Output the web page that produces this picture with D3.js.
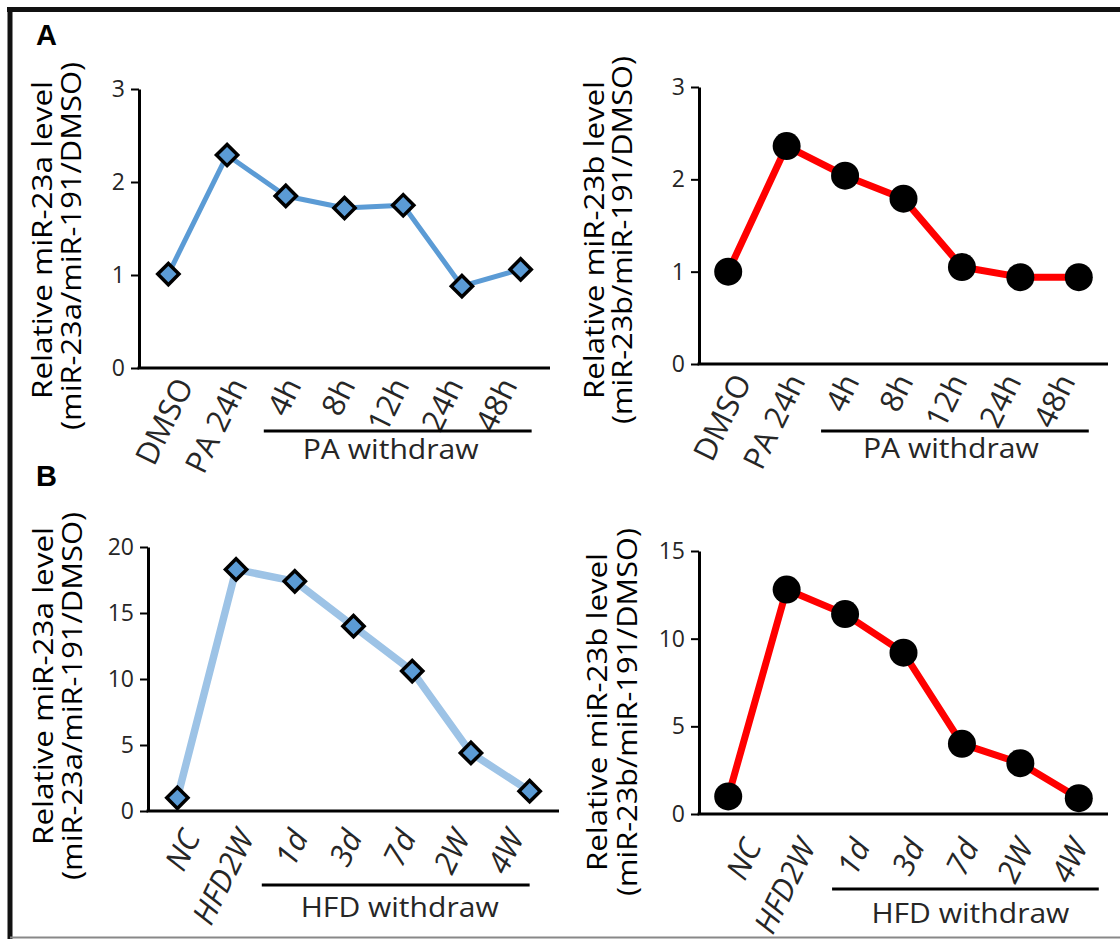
<!DOCTYPE html>
<html>
<head>
<meta charset="utf-8">
<script src="https://cdn.jsdelivr.net/npm/d3@7"></script>
<style>
  body { margin: 0; background: #fff; }
  text { font-family: "Open Sans", "DejaVu Sans", sans-serif; fill: #262626; }
</style>
</head>
<body>
<div id="chart"></div>
<script>
//// data
var catsPA = ["DMSO", "PA 24h", "4h", "8h", "12h", "24h", "48h"];
var mir23aPA = [1.01, 2.29, 1.85, 1.72, 1.75, 0.88, 1.06];
var mir23bPA = [1.00, 2.36, 2.04, 1.79, 1.05, 0.94, 0.94];

var catsHFD = ["NC", "HFD2W", "1d", "3d", "7d", "2W", "4W"];
var mir23aHFD = [1.0, 18.3, 17.4, 14.0, 10.6, 4.4, 1.5];
var mir23bHFD = [1.0, 12.8, 11.4, 9.2, 4.0, 2.9, 0.9];

var ticksPA = [0, 1, 2, 3];
var ticksHFDa = [0, 5, 10, 15, 20];
var ticksHFDb = [0, 5, 10, 15];

var titleA = ["Relative  miR-23a level", "(miR-23a/miR-191/DMSO)"];
var titleB = ["Relative  miR-23b level", "(miR-23b/miR-191/DMSO)"];

var W = 1120, H = 939;

var svg = d3.select("#chart")
  .append("svg")
    .attr("width", W)
    .attr("height", H);

// frame
svg.append("line").attr("x1", 7).attr("x2", W).attr("y1", 9.5).attr("y2", 9.5)
  .attr("stroke", "#111").attr("stroke-width", 5);
svg.append("line").attr("x1", 10).attr("x2", 10).attr("y1", 7).attr("y2", H)
  .attr("stroke", "#111").attr("stroke-width", 5);
svg.append("line").attr("x1", 10).attr("x2", W).attr("y1", 937.5).attr("y2", 937.5)
  .attr("stroke", "#888").attr("stroke-width", 2);

svg.append("text").attr("x", 36).attr("y", 45)
  .style("font-family", "Liberation Sans, Arial, sans-serif")
  .style("font-weight", "bold").style("font-size", "29px").style("fill", "#000")
  .text("A");
svg.append("text").attr("x", 36).attr("y", 486)
  .style("font-family", "Liberation Sans, Arial, sans-serif")
  .style("font-weight", "bold").style("font-size", "29px").style("fill", "#000")
  .text("B");

function panel(o) {
  var g = svg.append("g");

  var x = d3.scalePoint()
    .domain(o.cats)
    .range([o.x0, o.x1])
    .padding(0.5);

  // the category labels sit on a slightly tighter spacing than the points
  var xl = d3.scalePoint()
    .domain(o.cats)
    .range([o.x0 + o.lab[0], o.x1 - o.lab[1]])
    .padding(0.5);

  var y = d3.scaleLinear()
    .domain([0, o.ymax])
    .range([o.y0, o.y1]);

  // y axis
  var ya = g.append("g")
    .attr("transform", "translate(" + o.x0 + ",0)")
    .call(d3.axisLeft(y)
      .tickValues(o.ticks)
      .tickFormat(d3.format("d"))
      .tickSize(8).tickSizeOuter(0).tickPadding(6));
  ya.select(".domain").attr("stroke", "#000").attr("stroke-width", 3);
  ya.selectAll(".tick line").attr("stroke", "#000").attr("stroke-width", 2);
  ya.selectAll(".tick text")
    .style("font-family", "Open Sans, sans-serif")
    .style("font-size", "23px").style("fill", "#262626");

  // x axis (no ticks)
  g.append("line")
    .attr("x1", o.x0 - 1.5).attr("x2", o.x1)
    .attr("y1", o.y0).attr("y2", o.y0)
    .attr("stroke", "#000").attr("stroke-width", 3);

  // rotated category labels
  g.selectAll(".cat")
    .data(o.cats)
    .enter().append("text")
      .attr("class", "cat")
      .attr("text-anchor", "end")
      .attr("transform", function(d) {
        return "translate(" + xl(d) + "," + (o.y0 + o.ldy) + ") rotate(-64)";
      })
      .style("font-size", "31px")
      .style("font-style", o.italic ? "italic" : "normal")
      .text(function(d) { return d; });

  // group bracket
  var bx0 = x(o.cats[2]) - o.br[0], bx1 = x(o.cats[6]) + o.br[1];
  g.append("line")
    .attr("x1", bx0).attr("x2", bx1)
    .attr("y1", o.y0 + o.bdy).attr("y2", o.y0 + o.bdy)
    .attr("stroke", "#000").attr("stroke-width", 3);
  g.append("text")
    .attr("x", (bx0 + bx1) / 2 + o.br[2])
    .attr("y", o.y0 + o.bdy + o.tdy)
    .attr("text-anchor", "middle")
    .attr("textLength", o.groupLen)
    .attr("lengthAdjust", "spacingAndGlyphs")
    .style("font-size", "27px")
    .text(o.group);

  // y title, two lines
  o.title.forEach(function(t, i) {
    g.append("text")
      .attr("text-anchor", "middle")
      .attr("transform", "translate(" + o.tx[i] + "," + o.ty[i] + ") rotate(-90)")
      .attr("textLength", i === 0 ? 318 : 368)
      .attr("lengthAdjust", "spacingAndGlyphs")
      .style("font-size", "28px")
      .style("fill", "#000")
      .text(t);
  });

  var line = d3.line()
    .x(function(d, i) { return x(o.cats[i]); })
    .y(function(d) { return y(d); });

  g.append("path")
    .datum(o.values)
    .attr("fill", "none")
    .attr("stroke", o.lineColor)
    .attr("stroke-width", o.lineWidth)
    .attr("stroke-linejoin", "round")
    .attr("d", line);

  if (o.marker === "diamond") {
    var sym = d3.symbol().type(d3.symbolSquare).size(225);
    g.selectAll(".dots")
      .data(o.values)
      .enter().append("path")
        .attr("class", "dots")
        .attr("d", sym)
        .attr("transform", function(d, i) {
          return "translate(" + x(o.cats[i]) + "," + y(d) + ") rotate(45)";
        })
        .attr("fill", "#5b9bd5")
        .attr("stroke", "#000")
        .attr("stroke-width", 3.5);
  } else {
    g.selectAll(".dots")
      .data(o.values)
      .enter().append("circle")
        .attr("class", "dots")
        .attr("r", 14)
        .attr("cx", function(d, i) { return x(o.cats[i]); })
        .attr("cy", function(d) { return y(d); })
        .attr("fill", "#000");
  }
}

panel({ cats: catsPA, values: mir23aPA, ymax: 3, ticks: ticksPA,
  x0: 139, x1: 550, y0: 368, y1: 89, lab: [28, 5], ldy: 17, italic: false,
  br: [22, 11, -7], bdy: 63, tdy: 28, group: "PA withdraw", groupLen: 176,
  title: titleA, tx: [52, 81], ty: [240, 246],
  marker: "diamond", lineColor: "#5b9bd5", lineWidth: 5 });

panel({ cats: catsPA, values: mir23bPA, ymax: 3, ticks: ticksPA,
  x0: 699, x1: 1108, y0: 364, y1: 87, lab: [26, 5], ldy: 17, italic: false,
  br: [24, 10, -4], bdy: 67, tdy: 27, group: "PA withdraw", groupLen: 176,
  title: titleB, tx: [604, 632], ty: [240, 240],
  marker: "circle", lineColor: "#ff0000", lineWidth: 7 });

panel({ cats: catsHFD, values: mir23aHFD, ymax: 20, ticks: ticksHFDa,
  x0: 148, x1: 559, y0: 811, y1: 547, lab: [26, 7], ldy: 26, italic: true,
  br: [33, 0, 4], bdy: 74, tdy: 32, group: "HFD withdraw", groupLen: 198,
  title: titleA, tx: [53, 82], ty: [686, 696],
  marker: "diamond", lineColor: "#9dc3e6", lineWidth: 7.5 });

panel({ cats: catsHFD, values: mir23bHFD, ymax: 15, ticks: ticksHFDb,
  x0: 699, x1: 1108, y0: 814, y1: 551, lab: [36, -8], ldy: 32, italic: true,
  br: [13, 20, 5], bdy: 75, tdy: 34, group: "HFD withdraw", groupLen: 198,
  title: titleB, tx: [607, 637], ty: [712, 712],
  marker: "circle", lineColor: "#ff0000", lineWidth: 7 });
</script>
</body>
</html>
